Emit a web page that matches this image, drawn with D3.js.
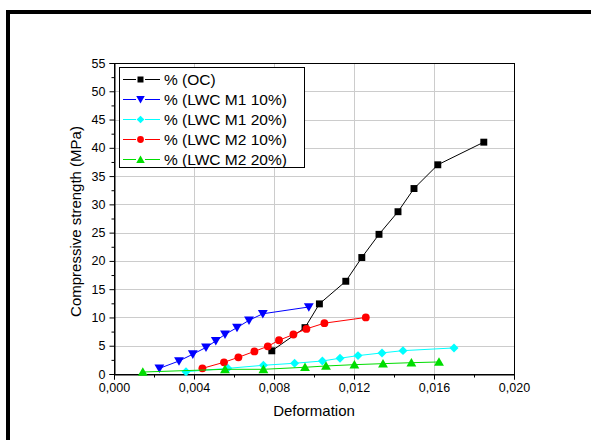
<!DOCTYPE html>
<html>
<head>
<meta charset="utf-8">
<script src="https://cdn.jsdelivr.net/npm/d3@7"></script>
<style>
  body { margin: 0; background: #fff; }
  svg { display: block; font-family: Arial, "Liberation Sans", sans-serif; }
</style>
</head>
<body>
<div id="chart"></div>
<script>
// Deformation (x) and compressive strength in MPa (y)
const ocDef = [0.00789, 0.00955, 0.01027, 0.01159, 0.01239, 0.01325, 0.0142, 0.0150, 0.01619, 0.01849];
const ocStr = [4.1, 8.2, 12.4, 16.4, 20.6, 24.7, 28.7, 32.8, 37.0, 41.0];

const m1a_Def = [0.00227, 0.00325, 0.00394, 0.0046, 0.00509, 0.00555, 0.00615, 0.00675, 0.00744, 0.00974];
const m1a_Str = [1.0, 2.3, 3.5, 4.7, 5.85, 7.0, 8.2, 9.5, 10.65, 11.85];

const m1b_Def = [0.0036, 0.00569, 0.00747, 0.00903, 0.01042, 0.0113, 0.0122, 0.0134, 0.01445, 0.0170];
const m1b_Str = [0.41, 1.0, 1.54, 1.9, 2.3, 2.79, 3.25, 3.73, 4.13, 4.61];

const m2a_Def = [0.00442, 0.0055, 0.00622, 0.00702, 0.00769, 0.00825, 0.00897, 0.00962, 0.01052, 0.01259];
const m2a_Str = [1.0, 2.07, 2.95, 4.0, 4.9, 5.97, 6.98, 7.98, 8.99, 10.0];

const m2b_Def = [0.00144, 0.00555, 0.00747, 0.00955, 0.0106, 0.01202, 0.01345, 0.01487, 0.01625];
const m2b_Str = [0.35, 0.83, 0.83, 1.19, 1.42, 1.65, 1.83, 2.0, 2.13];

const seriesNames = ["% (OC)", "% (LWC M1 10%)", "% (LWC M1 20%)", "% (LWC M2 10%)", "% (LWC M2 20%)"];
const xTicks = [0, 0.004, 0.008, 0.012, 0.016, 0.020];
const yTicks = [0, 5, 10, 15, 20, 25, 30, 35, 40, 45, 50, 55];

const series = [
  { name: seriesNames[0], xs: ocDef, ys: ocStr, color: "#000000", symbol: d3.symbolSquare, size: 48, rot: 0 },
  { name: seriesNames[1], xs: m1a_Def, ys: m1a_Str, color: "#0000ff", symbol: d3.symbolTriangle, size: 42, rot: 180 },
  { name: seriesNames[2], xs: m1b_Def, ys: m1b_Str, color: "#00ffff", symbol: d3.symbolSquare, size: 40, rot: 45 },
  { name: seriesNames[3], xs: m2a_Def, ys: m2a_Str, color: "#ff0000", symbol: d3.symbolCircle, size: 48, rot: 0 },
  { name: seriesNames[4], xs: m2b_Def, ys: m2b_Str, color: "#00dd00", symbol: d3.symbolTriangle, size: 42, rot: 0 }
];

const width = 591, height = 440;
const plot = { left: 114, right: 514, top: 63, bottom: 374 };

const svg = d3.select("#chart").append("svg")
  .attr("width", width).attr("height", height);

// outer frame (left and top edges visible)
svg.append("path")
  .attr("d", `M8,${height} V12 H${width}`)
  .attr("fill", "none").attr("stroke", "#000").attr("stroke-width", 4);

const x = d3.scaleLinear().domain([0, 0.020]).range([plot.left, plot.right]);
const y = d3.scaleLinear().domain([0, 55]).range([plot.bottom, plot.top]);
const fmtX = v => d3.format(".3f")(v).replace(".", ",");

// grid
const grid = svg.append("g").attr("stroke", "#cccccc").attr("stroke-width", 1);
grid.selectAll(".gx").data(xTicks.slice(1, -1)).enter().append("line")
  .attr("x1", d => Math.round(x(d)) + 0.5).attr("x2", d => Math.round(x(d)) + 0.5)
  .attr("y1", plot.top).attr("y2", plot.bottom);
grid.selectAll(".gy").data(yTicks.slice(1, -1)).enter().append("line")
  .attr("y1", d => Math.round(y(d)) + 0.5).attr("y2", d => Math.round(y(d)) + 0.5)
  .attr("x1", plot.left).attr("x2", plot.right);

// plot box
svg.append("rect")
  .attr("x", plot.left + 0.5).attr("y", plot.top + 0.5)
  .attr("width", plot.right - plot.left).attr("height", plot.bottom - plot.top)
  .attr("fill", "none").attr("stroke", "#000").attr("stroke-width", 1);

// axes
const xMinor = d3.range(0.002, 0.020, 0.004);
const yMinor = d3.range(2.5, 55, 5);

const xAxis = svg.append("g").attr("transform", `translate(0,${plot.bottom + 0.5})`)
  .call(d3.axisBottom(x).tickValues(xTicks).tickFormat(fmtX).tickSize(5).tickPadding(4));
svg.append("g").attr("transform", `translate(0,${plot.bottom + 0.5})`)
  .call(d3.axisBottom(x).tickValues(xMinor).tickFormat("").tickSize(3))
  .call(g => g.select(".domain").remove());

const yAxis = svg.append("g").attr("transform", `translate(${plot.left + 0.5},0)`)
  .call(d3.axisLeft(y).tickValues(yTicks).tickSize(5).tickPadding(4));
svg.append("g").attr("transform", `translate(${plot.left + 0.5},0)`)
  .call(d3.axisLeft(y).tickValues(yMinor).tickFormat("").tickSize(3))
  .call(g => g.select(".domain").remove());

svg.selectAll(".tick text").attr("font-size", "12.5px").attr("fill", "#000")
  .attr("font-family", "Arial, 'Liberation Sans', sans-serif");
svg.selectAll(".tick line").attr("stroke", "#000");
svg.selectAll(".domain").attr("stroke", "#000");

// axis titles
svg.append("text")
  .attr("x", (plot.left + plot.right) / 2).attr("y", 416)
  .attr("text-anchor", "middle").attr("font-size", "15px")
  .text("Deformation");
svg.append("text")
  .attr("transform", `translate(81,${(plot.top + plot.bottom) / 2 + 3}) rotate(-90)`)
  .attr("text-anchor", "middle").attr("font-size", "15px")
  .text("Compressive strength (MPa)");

// series
const line = d3.line().x(d => x(d[0])).y(d => y(d[1]));
series.forEach(s => {
  const pts = s.xs.map((v, i) => [v, s.ys[i]]);
  svg.append("path").datum(pts)
    .attr("d", line).attr("fill", "none")
    .attr("stroke", s.color).attr("stroke-width", 1);
  svg.append("g").selectAll("path").data(pts).enter().append("path")
    .attr("d", d3.symbol().type(s.symbol).size(s.size))
    .attr("transform", d => `translate(${x(d[0])},${y(d[1]) + (s.symbol === d3.symbolTriangle ? (s.rot ? -1 : 1) : 0)}) rotate(${s.rot})`)
    .attr("fill", s.color);
});

// legend
const lg = svg.append("g").attr("transform", "translate(119,67)");
lg.append("rect").attr("x", 0.5).attr("y", 0.5).attr("width", 185).attr("height", 100)
  .attr("fill", "#fff").attr("stroke", "#000").attr("stroke-width", 1);
const item = lg.selectAll(".item").data(series).enter().append("g")
  .attr("transform", (d, i) => `translate(0,${12.5 + i * 20})`);
item.append("line").attr("x1", 4).attr("x2", 17).attr("stroke", d => d.color);
item.append("line").attr("x1", 26).attr("x2", 41).attr("stroke", d => d.color);
item.append("path")
  .attr("d", d => d3.symbol().type(d.symbol).size(d.size * 0.75)())
  .attr("transform", d => `translate(21.5,${d.symbol === d3.symbolTriangle ? (d.rot ? -1 : 1) : 0}) rotate(${d.rot})`)
  .attr("fill", d => d.color);
item.append("text").attr("x", 45).attr("dy", "0.36em")
  .attr("font-size", "15.5px").text(d => d.name);
</script>
</body>
</html>
